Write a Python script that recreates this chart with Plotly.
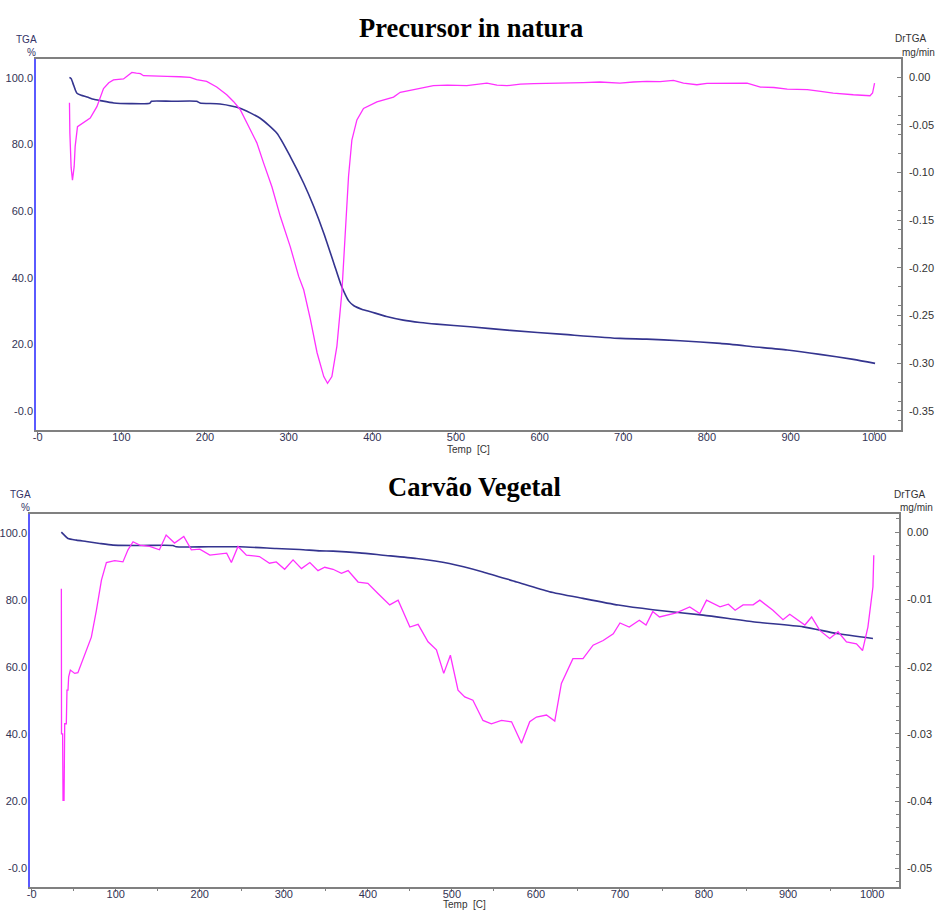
import plotly.graph_objects as go

# ---------------- Precursor in natura ----------------
pn_tga_temp = [38, 40, 43, 45, 47, 52, 59, 67, 75, 91,
               110, 134, 136, 160, 190, 194, 218, 242, 266, 286,
               302, 318, 330, 342, 354, 362, 368, 372, 378, 388,
               398, 417, 437, 457, 477, 517, 565, 629, 696, 728,
               768, 816, 856, 896, 935, 975, 1001]
pn_tga = [100.2, 99.8, 97.8, 96.4, 95.4, 94.8, 94.3, 93.6, 93.2, 92.5,
          92.3, 92.4, 93.0, 93.0, 93.0, 92.5, 92.2, 90.9, 87.9, 83.4,
          76.4, 68.4, 61.4, 53.4, 44.4, 38.3, 34.8, 33.0, 31.6, 30.5,
          29.8, 28.4, 27.3, 26.6, 26.1, 25.3, 24.2, 23.0, 21.8, 21.6,
          21.1, 20.3, 19.3, 18.3, 17.0, 15.5, 14.3]

pn_dr_temp = [38, 38.5, 40, 41.6, 43.6, 44.8, 47.6, 54.8, 62.8, 70.8,
              78.7, 85, 90.6, 102.6, 112.6, 118, 122.8, 126.5, 140, 154.4,
              170, 182.3, 190, 202, 214, 226, 234, 242, 250, 262,
              270, 280, 290, 302, 312, 318, 326, 334, 342, 346.5,
              351.7, 357.7, 363.6, 367.6, 371.6, 375.6, 381.6, 389.5, 405.5, 425.4,
              433.4, 457, 473, 490, 513, 537, 549, 561, 577, 593,
              613, 633, 652, 672, 696, 712, 728, 744, 760, 772,
              788, 800, 816, 848, 864, 880, 896, 920, 936, 951,
              975, 995, 998, 1000.4]
pn_dr = [-0.027, -0.059, -0.095, -0.108, -0.094, -0.073, -0.052, -0.048, -0.043, -0.031,
         -0.012, -0.006, -0.003, -0.002, 0.0048, 0.0040, 0.0035, 0.0014, 0.0008, 0.0006,
         0.0003, -0.0004, -0.0028, -0.0046, -0.0105, -0.0186, -0.0256, -0.034, -0.048, -0.069,
         -0.090, -0.115, -0.146, -0.178, -0.209, -0.223, -0.254, -0.289, -0.314, -0.321,
         -0.314, -0.282, -0.226, -0.164, -0.104, -0.066, -0.045, -0.033, -0.026, -0.021,
         -0.016, -0.012, -0.009, -0.0085, -0.0091, -0.0063, -0.0085, -0.0091, -0.0075, -0.0070,
         -0.0068, -0.0063, -0.0058, -0.0052, -0.0063, -0.0052, -0.0046, -0.0048, -0.0035, -0.0063,
         -0.0081, -0.0066, -0.0063, -0.0063, -0.0105, -0.0110, -0.0126, -0.0133, -0.0150, -0.0168,
         -0.0186, -0.0196, -0.0168, -0.0063]

# ---------------- Carvão Vegetal ----------------
cv_tga_temp = [35.3, 38, 43.2, 53.2, 65, 81, 96.8, 130, 168, 172,
               210, 247.5, 291, 319, 343, 358.6, 390, 418, 458, 497,
               537, 577, 616, 656, 698, 739, 799, 858, 918, 958,
               1001]
cv_tga = [100.3, 99.6, 98.4, 97.9, 97.5, 96.9, 96.4, 96.3, 96.3, 95.9,
          95.9, 95.9, 95.4, 95.1, 94.7, 94.6, 94.1, 93.4, 92.4, 90.9,
          88.4, 85.4, 82.5, 80.5, 78.5, 77.1, 75.5, 73.5, 72.0, 70.0,
          68.5]

cv_dr_temp = [35.3, 35.5, 36.8, 37.3, 38.5, 39.3, 41.2, 42, 43.2, 44,
              46, 51.2, 55, 61, 71, 77, 83, 88.9, 98.8, 108.6,
              114.6, 120.6, 128.5, 140.4, 152, 160, 170, 181, 190, 200,
              212, 232, 237.6, 245.5, 255.5, 271, 283, 291, 301, 311,
              321, 331, 340.7, 348.7, 358.6, 368.6, 376.5, 388.4, 400, 412,
              426, 436, 450, 459.8, 471.6, 481.6, 490.3, 498.2, 507.3, 515.3,
              525, 537, 547, 559, 571, 582.8, 592.6, 600.6, 612.5, 622.4,
              630.3, 644, 656, 668, 680, 692, 700, 711, 723, 731,
              739, 747, 767, 783, 795, 803, 819, 829, 837, 846.5,
              858.4, 866.4, 882, 894, 902, 920, 928, 937.7, 949.6, 959.5,
              969.5, 981.4, 988.6, 995, 1001, 1002]
cv_dr = [-0.0084, -0.0300, -0.0300, -0.0399, -0.0399, -0.0285, -0.0285, -0.0235, -0.0235, -0.0215,
         -0.0205, -0.0210, -0.0209, -0.0190, -0.0156, -0.0116, -0.0071, -0.0045, -0.0042, -0.0044,
         -0.0026, -0.0014, -0.0019, -0.0021, -0.0026, -0.0004, -0.0016, -0.0006, -0.0026, -0.0025,
         -0.0034, -0.0031, -0.0045, -0.0021, -0.0034, -0.0036, -0.0046, -0.0044, -0.0055, -0.0041,
         -0.0054, -0.0045, -0.0057, -0.0052, -0.0055, -0.0061, -0.0057, -0.0074, -0.0076, -0.0091,
         -0.0108, -0.0101, -0.0141, -0.0137, -0.0163, -0.0175, -0.0210, -0.0183, -0.0235, -0.0245,
         -0.0250, -0.0280, -0.0285, -0.0280, -0.0282, -0.0314, -0.0282, -0.0275, -0.0272, -0.0281,
         -0.0225, -0.0188, -0.0188, -0.0168, -0.0161, -0.0151, -0.0135, -0.0141, -0.0131, -0.0138,
         -0.0118, -0.0126, -0.0120, -0.0111, -0.0121, -0.0101, -0.0111, -0.0107, -0.0116, -0.0108,
         -0.0108, -0.0101, -0.0116, -0.0130, -0.0122, -0.0138, -0.0126, -0.0146, -0.0158, -0.0148,
         -0.0163, -0.0166, -0.0176, -0.0141, -0.0081, -0.0034]

# ---------------- tick labels ----------------
temp_ticks = [0, 100, 200, 300, 400, 500, 600, 700, 800, 900, 1000]
temp_tick_text = ["-0", "100", "200", "300", "400", "500", "600", "700", "800", "900", "1000"]
tga_ticks = [0, 20, 40, 60, 80, 100]
tga_tick_text = ["-0.0", "20.0", "40.0", "60.0", "80.0", "100.0"]
pn_dr_ticks = [0.0, -0.05, -0.10, -0.15, -0.20, -0.25, -0.30, -0.35]
pn_dr_tick_text = ["0.00", "-0.05", "-0.10", "-0.15", "-0.20", "-0.25", "-0.30", "-0.35"]
cv_dr_ticks = [0.0, -0.01, -0.02, -0.03, -0.04, -0.05]
cv_dr_tick_text = ["0.00", "-0.01", "-0.02", "-0.03", "-0.04", "-0.05"]

TGA_COLOR = "#34348f"
DR_COLOR = "#ff30ff"
FRAME = "#808080"
LEFT_AXIS = "#5a5aff"
TICK_FONT = dict(family="Liberation Sans, Arial, sans-serif", size=11, color="#333355")
W, H = 937, 910

fig = go.Figure()
fig.add_trace(go.Scatter(x=pn_tga_temp, y=pn_tga, mode="lines", xaxis="x", yaxis="y",
                         line=dict(color=TGA_COLOR, width=1.6, shape="spline", smoothing=0.6),
                         hoverinfo="skip"))
fig.add_trace(go.Scatter(x=pn_dr_temp, y=pn_dr, mode="lines", xaxis="x", yaxis="y2",
                         line=dict(color=DR_COLOR, width=1.3), hoverinfo="skip"))
fig.add_trace(go.Scatter(x=cv_tga_temp, y=cv_tga, mode="lines", xaxis="x2", yaxis="y3",
                         line=dict(color=TGA_COLOR, width=1.6, shape="spline", smoothing=0.6),
                         hoverinfo="skip"))
fig.add_trace(go.Scatter(x=cv_dr_temp, y=cv_dr, mode="lines", xaxis="x2", yaxis="y4",
                         line=dict(color=DR_COLOR, width=1.3), hoverinfo="skip"))


def px_x(p):
    return p / W


def px_y(p):
    return 1 - p / H


def temp_axis(domain, anchor, minor):
    ax = dict(domain=domain, anchor=anchor, range=[-2, 1032], showgrid=False, zeroline=False,
              showline=True, linecolor=FRAME, linewidth=1.5, mirror=True,
              ticks="outside", ticklen=3, tickcolor=FRAME, tickwidth=1,
              ticklabelstandoff=-7,
              tickmode="array", tickvals=temp_ticks, ticktext=temp_tick_text,
              tickfont=TICK_FONT, automargin=False)
    if minor:
        ax["minor"] = dict(dtick=50, tick0=0, ticks="outside", ticklen=2, tickcolor=FRAME)
    return ax


def tga_axis(domain, anchor):
    return dict(domain=domain, anchor=anchor, range=[-5.7, 105.7], showgrid=False, zeroline=False,
                showline=True, linecolor=LEFT_AXIS, linewidth=1.5, ticks="",
                ticklabelstandoff=-1,
                tickmode="array", tickvals=tga_ticks, ticktext=tga_tick_text,
                tickfont=TICK_FONT, automargin=False)


def dr_axis(overlay, anchor, rng, vals, text, minor_step):
    return dict(overlaying=overlay, anchor=anchor, side="right", range=rng, showgrid=False,
                zeroline=False, showline=True, linecolor=FRAME, linewidth=1.5,
                ticks="inside", ticklen=4, tickcolor=FRAME,
                ticklabelstandoff=4,
                tickmode="array", tickvals=vals, ticktext=text,
                minor=dict(dtick=minor_step, tick0=0, ticks="inside", ticklen=3, tickcolor=FRAME),
                tickfont=dict(family="Liberation Sans, Arial, sans-serif", size=11, color="#333333"),
                automargin=False)


fig.update_layout(
    width=W, height=H,
    margin=dict(l=0, r=0, t=0, b=0),
    paper_bgcolor="white", plot_bgcolor="white",
    showlegend=False,
    template="none",
    xaxis=temp_axis([px_x(36), px_x(901)], "y", False),
    yaxis=tga_axis([px_y(430), px_y(59)], "x"),
    yaxis2=dr_axis("y", "x", [-0.370, 0.0189], pn_dr_ticks, pn_dr_tick_text, 0.02),
    xaxis2=temp_axis([px_x(30), px_x(899)], "y3", True),
    yaxis3=tga_axis([px_y(887), px_y(514)], "x2"),
    yaxis4=dr_axis("y3", "x2", [-0.0528, 0.00273], cv_dr_ticks, cv_dr_tick_text, 0.002),
)


def label(text, x, y, size=10, color="#333366", family="Liberation Sans, Arial, sans-serif",
          xanchor="center"):
    fig.add_annotation(text=text, x=px_x(x), y=px_y(y), xref="paper", yref="paper",
                       xanchor=xanchor, yanchor="middle", showarrow=False,
                       font=dict(family=family, size=size, color=color))


serif = "Liberation Serif, Times New Roman, serif"
label("<b>Precursor in natura</b>", 470.5, 28, size=26.5, color="black", family=serif)
label("<b>Carvão Vegetal</b>", 474, 487, size=26.5, color="black", family=serif)

label("TGA", 26.5, 40)
label("%", 31, 52)
label("DrTGA", 910, 39, color="#333333")
label("mg/min", 918, 52, color="#333333")
label("Temp\u00a0 [C]", 468, 449, color="#333333")

label("TGA", 20.5, 495)
label("%", 25, 507)
label("DrTGA", 909.5, 494.5, color="#333333")
label("mg/min", 916.5, 507.5, color="#333333")
label("Temp\u00a0 [C]", 464.5, 904, color="#333333")

fig.write_html("out.html")
